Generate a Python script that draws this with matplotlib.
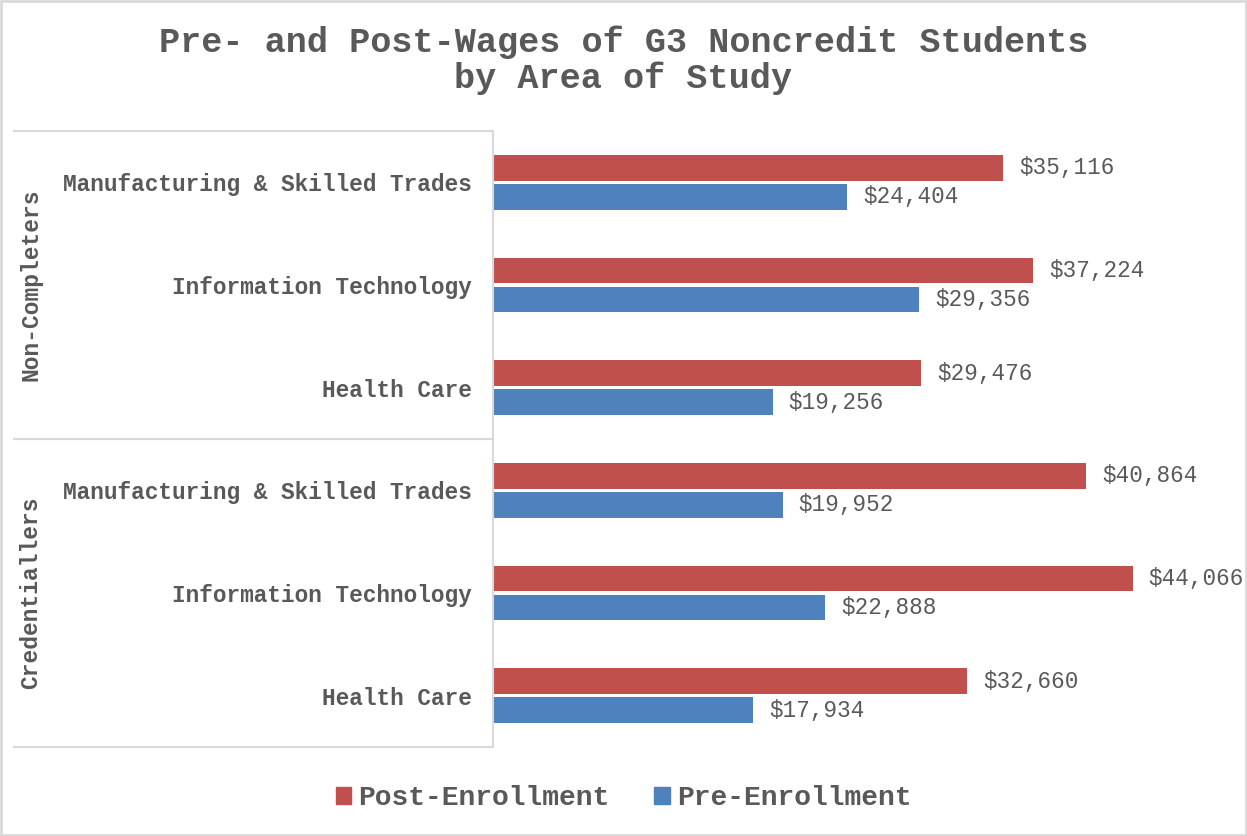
import matplotlib.pyplot as plt
from matplotlib.patches import Patch, Rectangle
from matplotlib.lines import Line2D
import numpy as np

# Data
groups = ["Non-Completers", "Credentiallers"]
areas = ["Manufacturing & Skilled Trades", "Information Technology", "Health Care"]
post_wages = [35116, 37224, 29476, 40864, 44066, 32660]
pre_wages = [24404, 29356, 19256, 19952, 22888, 17934]

RED = "#C0504D"
BLUE = "#4F81BD"
TXT = "#595959"
GRID = "#D9D9D9"
FONT = "Liberation Mono"

W, H = 1247, 836
fig = plt.figure(figsize=(W / 100, H / 100), dpi=100)

def fx(px):
    return px / W

def fy(py):
    return 1 - py / H

# plot area in pixels
left, right, top, bottom = 493, 1219, 131, 747
ax = fig.add_axes([fx(left), fy(bottom), fx(right - left), fy(top) - fy(bottom)])

labels = areas * len(groups)
y = np.arange(len(labels))
h = 0.25
off = 0.142

ax.barh(y - off, post_wages, height=h, color=RED, label="Post-Enrollment")
ax.barh(y + off, pre_wages, height=h, color=BLUE, label="Pre-Enrollment")

ax.set_xlim(0, 50000)
ax.set_ylim(len(labels) - 0.5, -0.5)

for yy, v in zip(y - off, post_wages):
    ax.annotate(f"${v:,}", (v, yy), xytext=(11.5, 0), textcoords="offset points",
                ha="left", va="center", fontsize=16.3, family=FONT, color=TXT)
for yy, v in zip(y + off, pre_wages):
    ax.annotate(f"${v:,}", (v, yy), xytext=(11.5, 0), textcoords="offset points",
                ha="left", va="center", fontsize=16.3, family=FONT, color=TXT)

ax.set_yticks(y)
ax.set_yticklabels(labels, fontsize=16.4, family=FONT, fontweight="bold", color=TXT)
ax.tick_params(axis="y", length=0, pad=15)
ax.set_xticks([])
for s in ax.spines.values():
    s.set_visible(False)

# category box lines
def hline(x0, x1, yp):
    fig.add_artist(Line2D([fx(x0), fx(x1)], [fy(yp), fy(yp)], color=GRID, lw=1.5))

hline(14, left, top)
hline(14, left, (top + bottom) / 2)
hline(14, left, bottom)
fig.add_artist(Line2D([fx(left), fx(left)], [fy(top), fy(bottom)], color=GRID, lw=1.5))

# group labels
gy = [top + (bottom - top) / 4, top + 3 * (bottom - top) / 4]
for g, yp in zip(groups, gy):
    fig.text(fx(31), fy(yp), g, rotation=90, ha="center", va="center",
             fontsize=16.5, family=FONT, fontweight="bold", color=TXT)

# title
fig.text(0.5, fy(42), "Pre- and Post-Wages of G3 Noncredit Students", ha="center",
         va="center", fontsize=25.3, family=FONT, fontweight="bold", color=TXT)
fig.text(0.5, fy(78), "by Area of Study", ha="center", va="center",
         fontsize=25.3, family=FONT, fontweight="bold", color=TXT)

# legend
handles = [Patch(color=RED), Patch(color=BLUE)]
fig.legend(handles, ["Post-Enrollment", "Pre-Enrollment"], loc="center",
           bbox_to_anchor=(0.5, fy(798)), ncol=2, frameon=False,
           prop={"family": FONT, "weight": "bold", "size": 20.2},
           labelcolor=TXT, handlelength=0.55, handleheight=0.55,
           handletextpad=0.25, columnspacing=1.6)

# outer border
fig.add_artist(Rectangle((0.001, 0.001), 0.998, 0.998, transform=fig.transFigure,
                         fill=False, edgecolor=GRID, lw=2))

fig.savefig("out.png", dpi=100, facecolor="white")
